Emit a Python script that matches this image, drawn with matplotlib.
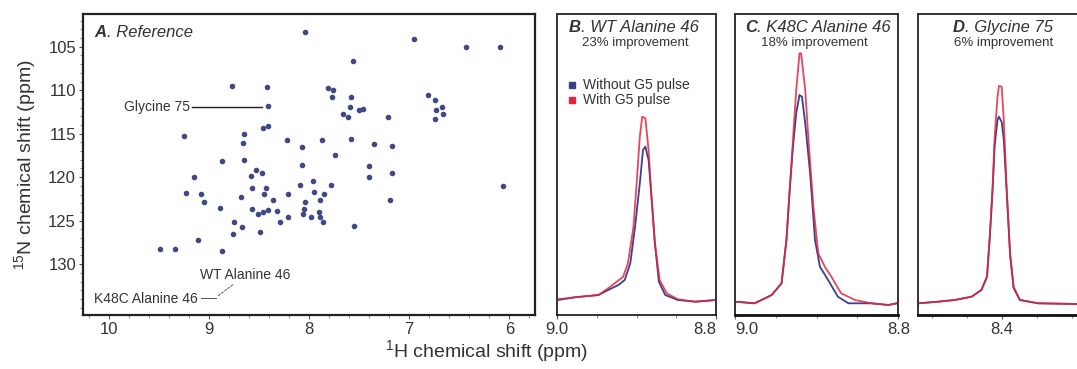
import matplotlib
matplotlib.use("Agg")
import matplotlib.pyplot as plt
from matplotlib.ticker import MultipleLocator

plt.rcParams['font.family'] = ['Liberation Sans', 'DejaVu Sans']
plt.rcParams['mathtext.fontset'] = 'custom'
plt.rcParams['mathtext.rm'] = 'Liberation Sans'

# --- panel A: HSQC peak positions (1H ppm, 15N ppm) ---
h_shift = [8.043, 6.95, 6.433, 6.093, 7.56, 8.766, 8.426, 8.416, 7.81, 7.76,
           7.77, 7.586, 7.593, 7.66, 7.61, 7.50, 7.466, 7.21, 6.81, 6.743,
           6.733, 6.743, 6.676, 6.66, 9.25, 8.653, 8.666, 8.466, 8.416, 8.226,
           8.073, 7.876, 7.586, 7.353, 7.17, 7.74, 8.866, 8.653, 8.07, 7.406,
           7.40, 7.17, 9.15, 8.533, 8.476, 8.586, 8.573, 8.436, 8.453, 8.093,
           7.96, 7.95, 7.786, 9.226, 9.076, 9.05, 8.68, 8.366, 8.21, 8.04,
           8.053, 7.85, 7.893, 7.193, 8.89, 8.573, 8.51, 8.466, 8.416, 8.326,
           8.21, 8.293, 8.066, 7.983, 7.90, 7.893, 7.866, 7.553, 8.753, 8.67,
           8.76, 8.493, 9.11, 9.486, 9.336, 8.87, 6.06]
n_shift = [103.34, 104.15, 105.0, 105.0, 106.6, 109.53, 109.6, 111.84, 109.7, 110.0,
           110.77, 110.77, 111.92, 112.7, 113.07, 112.3, 112.1, 113.07, 110.57, 111.15,
           112.3, 113.26, 111.92, 112.68, 115.3, 114.99, 116.07, 114.3, 114.15, 115.68,
           116.53, 115.76, 115.57, 116.14, 116.42, 117.41, 118.18, 118.07, 118.64, 118.73,
           119.99, 119.53, 119.99, 119.14, 119.53, 119.91, 121.26, 121.26, 121.9, 120.95,
           120.41, 121.72, 120.87, 121.84, 121.99, 122.88, 122.3, 122.6, 121.99, 122.88,
           123.64, 121.99, 122.6, 122.6, 123.52, 123.64, 124.22, 124.03, 123.76, 123.84,
           124.53, 125.1, 124.22, 124.61, 124.03, 124.53, 125.1, 125.57, 125.18, 125.76,
           126.52, 126.34, 127.21, 128.3, 128.3, 128.45, 121.03]

# --- panel B: WT Alanine 46 slices ---
b_ppm_with = [8.999, 8.978, 8.948, 8.936, 8.925, 8.917, 8.911, 8.904, 8.900, 8.896,
              8.893, 8.889, 8.885, 8.881, 8.877, 8.871, 8.862, 8.848, 8.826, 8.800]
b_with = [0.007, 0.027, 0.05, 0.117, 0.183, 0.233, 0.367, 0.733, 1.167, 1.633,
          1.833, 1.817, 1.5, 1.0, 0.567, 0.2, 0.067, 0.007, -0.017, 0.0]
b_ppm_without = [8.999, 8.978, 8.948, 8.936, 8.923, 8.915, 8.908, 8.902, 8.896, 8.892,
                 8.889, 8.885, 8.881, 8.877, 8.872, 8.864, 8.848, 8.826, 8.800]
b_without = [0.0, 0.027, 0.05, 0.10, 0.15, 0.20, 0.367, 0.733, 1.167, 1.5,
             1.533, 1.40, 1.0, 0.567, 0.183, 0.05, 0.0, -0.017, 0.0]

# --- panel C: K48C Alanine 46 slices ---
c_ppm_with = [8.999, 8.976, 8.955, 8.943, 8.937, 8.933, 8.929, 8.925, 8.921, 8.919,
              8.914, 8.910, 8.904, 8.898, 8.890, 8.882, 8.870, 8.853, 8.833, 8.812, 8.800]
c_with = [-0.017, -0.033, 0.05, 0.167, 0.6, 1.1, 1.6, 2.1, 2.467, 2.467,
          2.1, 1.6, 0.933, 0.467, 0.333, 0.233, 0.067, 0.0, -0.033, -0.05, -0.03]
c_ppm_without = [9.0, 8.976, 8.955, 8.943, 8.937, 8.933, 8.929, 8.925, 8.921, 8.918,
                 8.914, 8.908, 8.902, 8.896, 8.886, 8.874, 8.861, 8.833, 8.812, 8.800]
c_without = [-0.017, -0.033, 0.05, 0.167, 0.6, 1.1, 1.533, 1.867, 2.05, 2.033,
             1.767, 1.267, 0.6, 0.333, 0.2, 0.033, -0.033, -0.033, -0.05, -0.03]

# --- panel D: Glycine 75 slices ---
d_ppm = [8.519, 8.491, 8.467, 8.443, 8.429, 8.421, 8.417, 8.413, 8.410, 8.406,
         8.404, 8.400, 8.397, 8.393, 8.388, 8.383, 8.374, 8.348, 8.293]
d_with = [-0.033, -0.017, 0.0, 0.033, 0.1, 0.233, 0.633, 1.133, 1.633, 2.033,
          2.14, 2.133, 1.8, 1.133, 0.467, 0.133, 0.0, -0.033, -0.04]
d_without = [-0.033, -0.017, 0.0, 0.033, 0.1, 0.233, 0.633, 1.1, 1.55, 1.8,
             1.833, 1.78, 1.6, 1.1, 0.45, 0.12, 0.0, -0.033, -0.04]

BLUE = '#3b3f8c'
RED = '#e3263f'
PEAK = '#3d4a86'
TXT = '#333333'

W, H = 1077, 369
fig = plt.figure(figsize=(W / 100, H / 100), dpi=100)

def frac_box(x0, x1, y0=14, y1=315):
    return [x0 / W, 1 - y1 / H, (x1 - x0) / W, (y1 - y0) / H]

# panel A
axA = fig.add_axes(frac_box(83, 535))
axA.plot(h_shift, n_shift, 'o', ms=3.0, color=PEAK, mec=PEAK)
axA.set_xlim(10.26, 5.743)
axA.set_ylim(135.85, 101.23)
axA.xaxis.set_major_locator(MultipleLocator(1))
axA.xaxis.set_minor_locator(MultipleLocator(0.2))
axA.yaxis.set_major_locator(MultipleLocator(5))
axA.yaxis.set_minor_locator(MultipleLocator(1))
axA.set_xticks([10, 9, 8, 7, 6])
axA.set_yticks([105, 110, 115, 120, 125, 130])
axA.tick_params(which='major', length=3, width=0.8, colors='#555555', labelcolor=TXT,
                labelsize=12, pad=2)
axA.tick_params(which='minor', length=2, width=0.6, colors='#777777')
for s in axA.spines.values():
    s.set_linewidth(1.6)
    s.set_color('#222222')

axA.text(0.024, 0.94, 'A', transform=axA.transAxes, fontsize=12, weight='bold',
         style='italic', color=TXT, va='center')
axA.text(0.052, 0.94, '. Reference', transform=axA.transAxes, fontsize=12,
         style='italic', color=TXT, va='center')

# peak labels
axA.plot([9.166, 8.476], [111.9, 111.9], color='#222222', lw=1.0)
axA.text(9.19, 111.9, 'Glycine 75', fontsize=10, color=TXT, ha='right', va='center')
axA.text(8.64, 131.3, 'WT Alanine 46', fontsize=10, color=TXT, ha='center', va='center')
axA.text(9.11, 134.0, 'K48C Alanine 46', fontsize=10, color=TXT, ha='right', va='center')
axA.plot([9.076, 8.926], [133.95, 133.95], color='#555555', lw=0.7)
axA.plot([8.91, 8.753], [133.64, 132.29], color='#555555', lw=0.7, ls=(0, (3, 1)))

# slice panels
def slice_panel(box, ppm_wo, y_wo, ppm_w, y_w, xlim, title, sub, title_x, sub_x, bottom_lw):
    ax = fig.add_axes(box)
    ax.plot(ppm_wo, y_wo, color=BLUE, lw=1.3)
    ax.plot(ppm_w, y_w, color=RED, lw=1.3, alpha=0.85)
    ax.set_xlim(*xlim)
    ax.set_ylim(-0.15, 2.86)
    ax.set_yticks([])
    ax.xaxis.set_minor_locator(MultipleLocator(0.05))
    ax.tick_params(which='major', length=3, width=0.8, colors='#555555', labelcolor=TXT,
                   labelsize=12, pad=2)
    ax.tick_params(which='minor', length=2, width=0.6, colors='#777777')
    for s in ax.spines.values():
        s.set_linewidth(1.4)
        s.set_color('#333333')
    ax.spines['bottom'].set_linewidth(bottom_lw)
    ax.spines['bottom'].set_color('#111111')
    t = ax.text(title_x, 0.955, title[0], transform=ax.transAxes, fontsize=12,
                weight='bold', style='italic', color=TXT, va='center')
    ax.annotate(title[1:], xy=(1, 0.5), xycoords=t, fontsize=12, style='italic',
                color=TXT, va='center')
    ax.text(sub_x, 0.905, sub, transform=ax.transAxes, fontsize=9.5, color=TXT,
            ha='center', va='center')
    return ax

axB = slice_panel(frac_box(557.3, 716), b_ppm_without, b_without, b_ppm_with, b_with,
                  (9.0, 8.8), 'B. WT Alanine 46', '23% improvement', 0.074, 0.49, 1.2)
axB.set_xticks([9.0, 8.8])
axB.set_xticklabels(['9.0', '8.8'])
axB.get_xticklabels()[1].set_horizontalalignment('right')

axC = slice_panel(frac_box(735, 898.3), c_ppm_without, c_without, c_ppm_with, c_with,
                  (9.0, 8.8), 'C. K48C Alanine 46', '18% improvement', 0.06, 0.488, 2.0)
axC.set_xticks([9.0, 8.8])
axC.set_xticklabels(['9.0', '8.8'])
axC.get_xticklabels()[0].set_horizontalalignment('left')

axD = slice_panel(frac_box(917.7, 1085), d_ppm, d_without, d_ppm, d_with,
                  (8.52, 8.281), 'D. Glycine 75', '6% improvement', 0.209, 0.516, 2.0)
axD.set_xticks([8.4])
axD.set_xticklabels(['8.4'])

# legend markers in B
axB.plot([0.095], [0.765], 's', ms=5, color=BLUE, transform=axB.transAxes, clip_on=False)
axB.plot([0.095], [0.713], 's', ms=5, color=RED, transform=axB.transAxes, clip_on=False)
axB.text(0.16, 0.765, 'Without G5 pulse', transform=axB.transAxes, fontsize=10,
         color=TXT, va='center')
axB.text(0.16, 0.713, 'With G5 pulse', transform=axB.transAxes, fontsize=10,
         color=TXT, va='center')

# shared axis labels
fig.text(487 / W, 1 - 352 / H, r'$^{1}$H chemical shift (ppm)', fontsize=14,
         color=TXT, ha='center', va='center')
fig.text(26 / W, 1 - 165 / H, r'$^{15}$N chemical shift (ppm)', fontsize=14,
         color=TXT, ha='center', va='center', rotation=90)

fig.savefig('out.png', dpi=100)
